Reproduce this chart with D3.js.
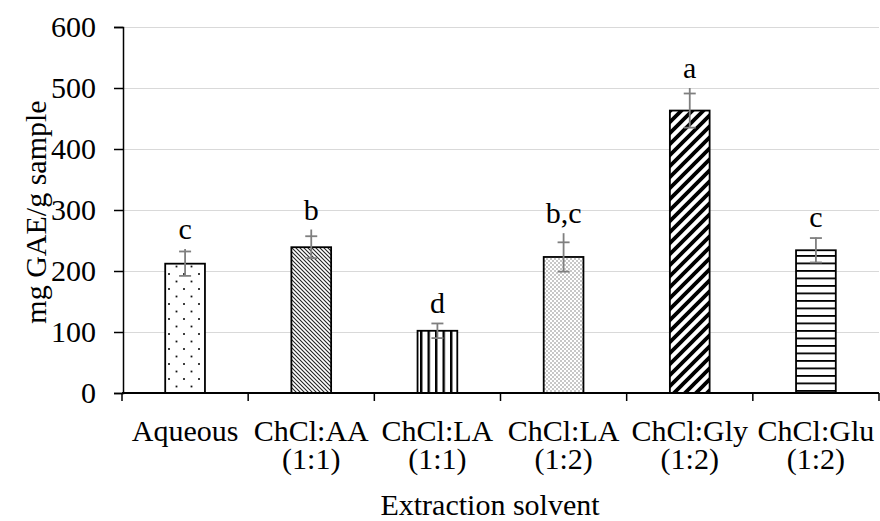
<!DOCTYPE html>
<html>
<head>
<meta charset="utf-8">
<script src="https://cdn.jsdelivr.net/npm/d3@7/dist/d3.min.js"></script>
<style>
  html, body { margin: 0; padding: 0; background: #fff; }
  svg { display: block; }
  text { font-family: "Liberation Serif", "Times New Roman", serif; fill: #000; }
</style>
</head>
<body>
<svg id="chart" width="880" height="521"></svg>
<script>
// Total phenolic content by extraction solvent
const categories = ["Aqueous", "ChCl:AA\n(1:1)", "ChCl:LA\n(1:1)", "ChCl:LA\n(1:2)", "ChCl:Gly\n(1:2)", "ChCl:Glu\n(1:2)"];
const values     = [212, 239, 102, 223, 463, 234];
const errors     = [20, 18, 12, 24, 28, 20];
const whiskerTop = [236, 268, 114, 262, 500, 255];
const letters    = ["c", "b", "d", "b,c", "a", "c"];
const yTicks     = [0, 100, 200, 300, 400, 500, 600];
const fills      = ["dots", "dnDiag", "vert", "fineDots", "upDiag", "horiz"];

const svg = d3.select("#chart");
const FS = 30;

const x = d3.scaleBand().domain(categories).range([122, 879]).padding(0);
const y = d3.scaleLinear().domain([0, 600]).range([393, 27]);
const barW = x.bandwidth() * 0.315;

// fill patterns
const defs = svg.append("defs");
function pat(id, w, h) {
  const p = defs.append("pattern").attr("id", id).attr("patternUnits", "userSpaceOnUse")
    .attr("width", w).attr("height", h);
  p.append("rect").attr("width", w).attr("height", h).attr("fill", "#fff");
  return p;
}
{ const p = pat("dots", 15, 15);
  [[4, 4], [11.5, 11.5]].forEach(([cx, cy]) =>
    p.append("rect").attr("x", cx - 0.9).attr("y", cy - 0.9).attr("width", 1.8).attr("height", 1.8).attr("fill", "#111")); }
{ const p = pat("dnDiag", 4, 4);
  p.append("path").attr("d", "M-1,-1L5,5M-1,3L1,5M3,-1L5,1").attr("stroke", "#222").attr("stroke-width", 1.1); }
{ const p = pat("vert", 7.5, 10);
  p.append("rect").attr("x", 0).attr("y", 0).attr("width", 2.4).attr("height", 10).attr("fill", "#000"); }
{ const p = pat("fineDots", 4, 4);
  [[1, 1], [3, 3]].forEach(([cx, cy]) =>
    p.append("rect").attr("x", cx - 0.5).attr("y", cy - 0.5).attr("width", 1).attr("height", 1).attr("fill", "#222")); }
{ const p = pat("upDiag", 11, 11);
  p.append("path").attr("d", "M-3,3L3,-3M0,11L11,0M8,14L14,8").attr("stroke", "#000").attr("stroke-width", 3.8); }
{ const p = pat("horiz", 10, 7.5);
  p.append("rect").attr("x", 0).attr("y", 0).attr("width", 10).attr("height", 1.8).attr("fill", "#000"); }

// gridlines
svg.append("g").selectAll("line").data(yTicks.filter(d => d > 0)).join("line")
  .attr("x1", 123).attr("x2", 879)
  .attr("y1", d => y(d) + 0.5).attr("y2", d => y(d) + 0.5)
  .attr("stroke", "#d9d9d9").attr("stroke-width", 1.2);

// bars
svg.append("g").selectAll("rect").data(categories).join("rect")
  .attr("x", d => x(d) + (x.bandwidth() - barW) / 2)
  .attr("y", (d, i) => y(values[i]))
  .attr("width", barW)
  .attr("height", (d, i) => y(0) - y(values[i]))
  .attr("fill", (d, i) => `url(#${fills[i]})`)
  .attr("stroke", "#000").attr("stroke-width", 1.8);

// error bars
const eb = svg.append("g").attr("stroke", "#7f7f7f").attr("stroke-width", 1.8).attr("fill", "none");
categories.forEach((c, i) => {
  const cx = x(c) + x.bandwidth() / 2;
  eb.append("line").attr("x1", cx).attr("x2", cx)
    .attr("y1", y(values[i] - errors[i])).attr("y2", y(whiskerTop[i]));
  [values[i] - errors[i], values[i] + errors[i]].forEach(v =>
    eb.append("line").attr("x1", cx - 6).attr("x2", cx + 6).attr("y1", y(v)).attr("y2", y(v)));
});

// significance letters
svg.append("g").selectAll("text").data(categories).join("text")
  .attr("x", d => x(d) + x.bandwidth() / 2)
  .attr("y", (d, i) => y(whiskerTop[i]) - 10)
  .attr("text-anchor", "middle").attr("font-size", FS)
  .text((d, i) => letters[i]);

// y axis
const yAxis = svg.append("g").attr("transform", "translate(123,0)")
  .call(d3.axisLeft(y).tickValues(yTicks).tickSize(9).tickPadding(18));
yAxis.select(".domain").attr("stroke", "#000").attr("stroke-width", 1.5);
yAxis.selectAll(".tick line").attr("stroke", "#000").attr("stroke-width", 1.5);
yAxis.selectAll(".tick text").attr("font-size", FS).attr("font-family", "Liberation Serif, Times New Roman, serif").attr("fill", "#000");

// x axis with ticks at category boundaries
const xg = svg.append("g");
xg.append("line").attr("x1", 122).attr("x2", 879).attr("y1", 393).attr("y2", 393)
  .attr("stroke", "#000").attr("stroke-width", 1.8);
const bounds = categories.map(c => x(c)).concat([x.range()[1]]);
xg.selectAll("line.tk").data(bounds).join("line").attr("class", "tk")
  .attr("x1", d => d).attr("x2", d => d).attr("y1", 393).attr("y2", 401)
  .attr("stroke", "#000").attr("stroke-width", 1.5);
xg.selectAll("text").data(categories).join("text")
  .attr("x", d => x(d) + x.bandwidth() / 2)
  .attr("y", 441)
  .attr("text-anchor", "middle").attr("font-size", FS)
  .each(function (d) {
    d.split("\n").forEach((line, k) =>
      d3.select(this).append("tspan").attr("x", x(d) + x.bandwidth() / 2).attr("dy", k ? 28 : 0).text(line));
  });

// axis titles
svg.append("text").attr("x", 490).attr("y", 515).attr("text-anchor", "middle").attr("font-size", FS)
  .text("Extraction solvent");
svg.append("text").attr("transform", "translate(46,212) rotate(-90)").attr("text-anchor", "middle").attr("font-size", FS)
  .text("mg GAE/g sample");
</script>
</body>
</html>
